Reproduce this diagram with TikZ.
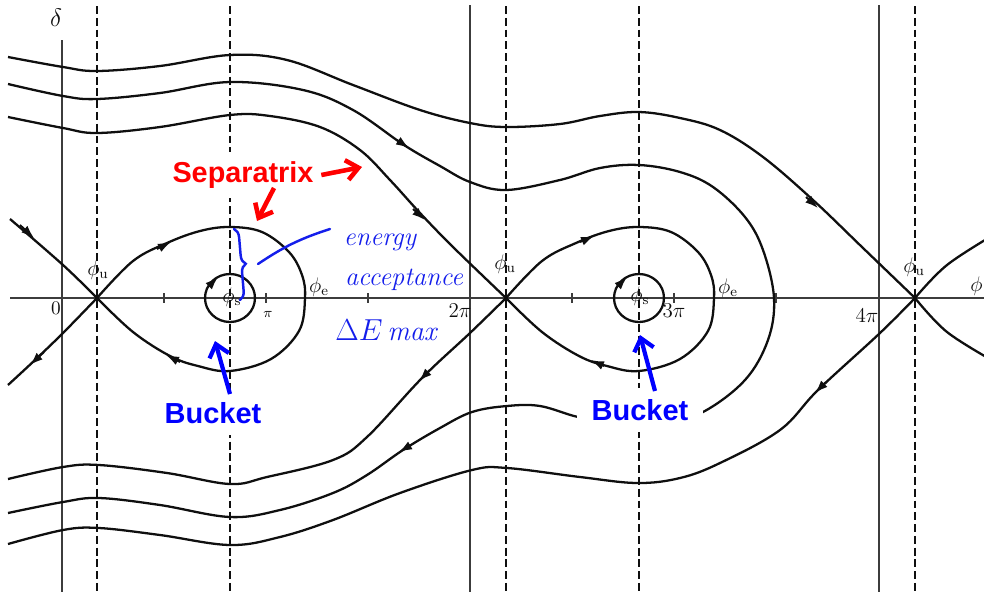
\documentclass[tikz,border=0pt]{standalone}
\usepackage{amsmath}
\usepackage{fontspec}
\newfontfamily\labelfont{Liberation Sans}
\usepackage{tikz}
\usetikzlibrary{
  arrows.meta,
  positioning,
  decorations.pathreplacing
}
\definecolor{scancolor}{RGB}{15, 15, 15}
\definecolor{gridcolor}{RGB}{60, 60, 60}
\definecolor{separatrixcolor}{RGB}{255, 0, 0}
\definecolor{bucketcolor}{RGB}{0, 0, 255}
\definecolor{handcolor}{RGB}{20, 30, 235}
\tikzset{
axisline/.style={
  draw=gridcolor,
  line width=0.8pt
},
guideline/.style={
  draw=scancolor,
  line width=1.0pt,
  dash pattern=on 4.5pt off 2.2pt
},
orbit/.style={
  draw=scancolor,
  line width=1.3pt,
  line join=round
},
flowtip/.style={
  -{Latex[length=2.6mm,width=1.8mm]},
  draw=scancolor,
  line width=1.1pt
},
scanlabel/.style={
  text=scancolor,
  inner sep=0pt
},
philabel/.style={
  scanlabel,
  font=\fontsize{11.5}{11.5}\selectfont
},
redlabel/.style={
  font=\labelfont\bfseries\fontsize{16.4}{18}\selectfont,
  text=separatrixcolor,
  fill=white,
  inner xsep=1.5mm,
  inner ysep=2mm
},
bluelabel/.style={
  font=\labelfont\bfseries\fontsize{16.5}{18}\selectfont,
  text=bucketcolor,
  fill=white,
  inner xsep=3mm,
  inner ysep=2.2mm
},
redarrow/.style={
  -{Straight Barb[length=2.4mm,width=4mm]},
  draw=separatrixcolor,
  line width=2.6pt
},
bluearrow/.style={
  -{Straight Barb[length=2.4mm,width=4mm]},
  draw=bucketcolor,
  line width=2.4pt
},
handpen/.style={
  draw=handcolor,
  line width=1.4pt,
  line cap=round
},
handtext/.style={
  font=\itshape\fontsize{15}{15}\selectfont,
  text=handcolor,
  inner sep=0pt
}
}

\begin{document}
\begin{tikzpicture}[x=0.2mm, y=-0.2mm]
\useasboundingbox (0,0) rectangle (984,592);

% axes and guide lines
\draw[axisline] (10,298) -- (984,298);
\foreach \xv/\ytop in {62/40, 470/5, 879/5}
  \draw[axisline] (\xv,\ytop) -- (\xv,592);
\foreach \xv in {97, 230, 506, 639, 915}
  \draw[guideline] (\xv,6) -- (\xv,592);
\foreach \xv in {164, 266, 368, 572, 674, 776}
  \draw[axisline] (\xv,293) -- (\xv,303);

% orbits above and below
\draw[orbit] plot[smooth, tension=0.6] coordinates {(8,57) (63,67) (97,71) (160,66) (230,55) (287,60) (353,85) (420,110) (470,123) (506,127) (560,124) (600,116) (639,112) (680,118) (720,130) (763,157) (813,200) (863,248) (915,298)};
\draw[orbit] plot[smooth, tension=0.6] coordinates {(8,84) (63,96) (97,99) (160,93) (230,82) (303,90) (353,110) (404,145) (440,166) (470,182) (506,190) (560,180) (600,168) (639,165) (680,172) (713,187) (745,217) (763,250) (774,298) (768,340) (745,380) (703,412) (660,425) (620,424) (578,417) (540,406) (507,406) (472,412) (440,428) (403,450) (367,475) (333,493) (280,510) (230,517) (160,505) (99,498) (63,502) (8,513)};
\draw[orbit] plot[smooth, tension=0.6] coordinates {(8,117) (63,128) (97,133) (160,127) (230,115) (270,116) (320,127) (360,150) (390,180) (420,213) (453,247) (506,298)};
\draw[orbit] plot[smooth, tension=0.6] coordinates {(506,298) (470,333) (422,378) (367,437) (333,460) (267,477) (230,484) (167,473) (99,465) (63,467) (8,479)};
\draw[orbit] plot[smooth, tension=0.6] coordinates {(915,298) (880,333) (818,390) (780,430) (720,463) (680,478) (637,483) (580,477) (507,468) (472,470) (400,493) (333,520) (280,537) (230,545) (160,535) (99,528) (63,530) (8,544)};
\draw[orbit] plot[smooth, tension=0.6] coordinates {(10,219) (63,265) (97,298)};
\draw[orbit] plot[smooth, tension=0.6] coordinates {(97,298) (63,333) (35,360) (8,385)};
\draw[orbit] plot[smooth, tension=0.6] coordinates {(915,298) (947,265) (995,234)};
\draw[orbit] plot[smooth, tension=0.6] coordinates {(915,298) (947,332) (995,362)};

% buckets
\foreach \dx in {0, 409} {
  \begin{scope}[shift={(\dx,0)}]
    \draw[orbit] plot[smooth, tension=0.6] coordinates {(97,298) (133,261) (167,243) (200,231) (230,227) (262,232) (289,252) (302,275) (305,298) (299,331) (271,359) (230,371) (198,366) (170,356) (133,332) (97,298)};
    \draw[orbit] (230,298) ellipse [x radius=25, y radius=24];
  \end{scope}
}

% flow direction
\draw[flowtip] (20,225) -- (34,238);
\draw[flowtip] (44,352) -- (30,365);
\draw[flowtip] (157,249) -- (171,242);
\draw[flowtip] (180,362) -- (166,355);
\draw[flowtip] (209,286) -- (218,277);
\draw[flowtip] (413,209) -- (425,220);
\draw[flowtip] (397,140) -- (409,148);
\draw[flowtip] (806,197) -- (818,208);
\draw[flowtip] (430,370) -- (419,381);
\draw[flowtip] (411,445) -- (399,452);
\draw[flowtip] (826,382) -- (815,393);
\draw[flowtip] (580,242) -- (594,236);
\draw[flowtip] (604,366) -- (591,360);
\draw[flowtip] (618,286) -- (627,277);

% scanned labels
\node[scanlabel, font=\fontsize{15}{15}\selectfont] (lbldelta) at (56,18) {$\delta$};
\node[scanlabel, font=\fontsize{11}{11}\selectfont] (lblzero) at (56,308) {$0$};
\node[scanlabel, font=\fontsize{8}{8}\selectfont] (lblpi) at (268,314) {$\pi$};
\node[scanlabel, font=\fontsize{12}{12}\selectfont] (lbltwopi) at (460,311) {$2\pi$};
\node[scanlabel, font=\fontsize{12}{12}\selectfont] (lblthreepi) at (674,311) {$3\pi$};
\node[scanlabel, font=\fontsize{12}{12}\selectfont] (lblfourpi) at (867,316) {$4\pi$};
\node[philabel] (lblphiuA) at (98,270) {$\phi_{\mathrm{u}}$};
\node[philabel] (lblphiuB) at (505,264) {$\phi_{\mathrm{u}}$};
\node[philabel] (lblphiuC) at (914,267) {$\phi_{\mathrm{u}}$};
\node[philabel] (lblphisA) at (232,297) {$\phi_{\mathrm{s}}$};
\node[philabel] (lblphisB) at (640,296) {$\phi_{\mathrm{s}}$};
\node[philabel] (lblphieA) at (319,287) {$\phi_{\mathrm{e}}$};
\node[philabel] (lblphieB) at (728,288) {$\phi_{\mathrm{e}}$};
\node[philabel, anchor=east] (lblphi) at (983,286) {$\phi$};

% annotations
\node[redlabel] (sepname) at (243,175) {Separatrix};
\coordinate (septipA) at (362,167);
\coordinate (sepstartB) at (274,188);
\coordinate (septipB) at (257,221);
\draw[redarrow] (sepname.east) -- (septipA);
\draw[redarrow] (sepstartB) -- (septipB);

\node[bluelabel] (bucketA) at (213,413) {Bucket};
\node[bluelabel] (bucketB) at (640,410) {Bucket};
\coordinate (bktstartA) at (230,394);
\coordinate (bkttipA) at (215,341);
\coordinate (bktstartB) at (655,391);
\coordinate (bkttipB) at (640,335);
\draw[bluearrow] (bktstartA) -- (bkttipA);
\draw[bluearrow] (bktstartB) -- (bkttipB);

\coordinate (braceTop) at (234,229);
\coordinate (braceBot) at (240,300);
\coordinate (handlineA) at (258,264);
\coordinate (handlineB) at (330,229);
\draw[handpen, decorate, decoration={brace, amplitude=5pt}] (braceTop) -- (braceBot);
\draw[handpen] (handlineA) to[bend left=8] (handlineB);
\node[handtext] (handA) at (380,242) {energy};
\node[handtext] (handB) at (404,280) {acceptance};
\node[handtext, font=\itshape\fontsize{16}{16}\selectfont] (handC) at (386,330) {$\Delta E$\,max};
\end{tikzpicture}
\end{document}
